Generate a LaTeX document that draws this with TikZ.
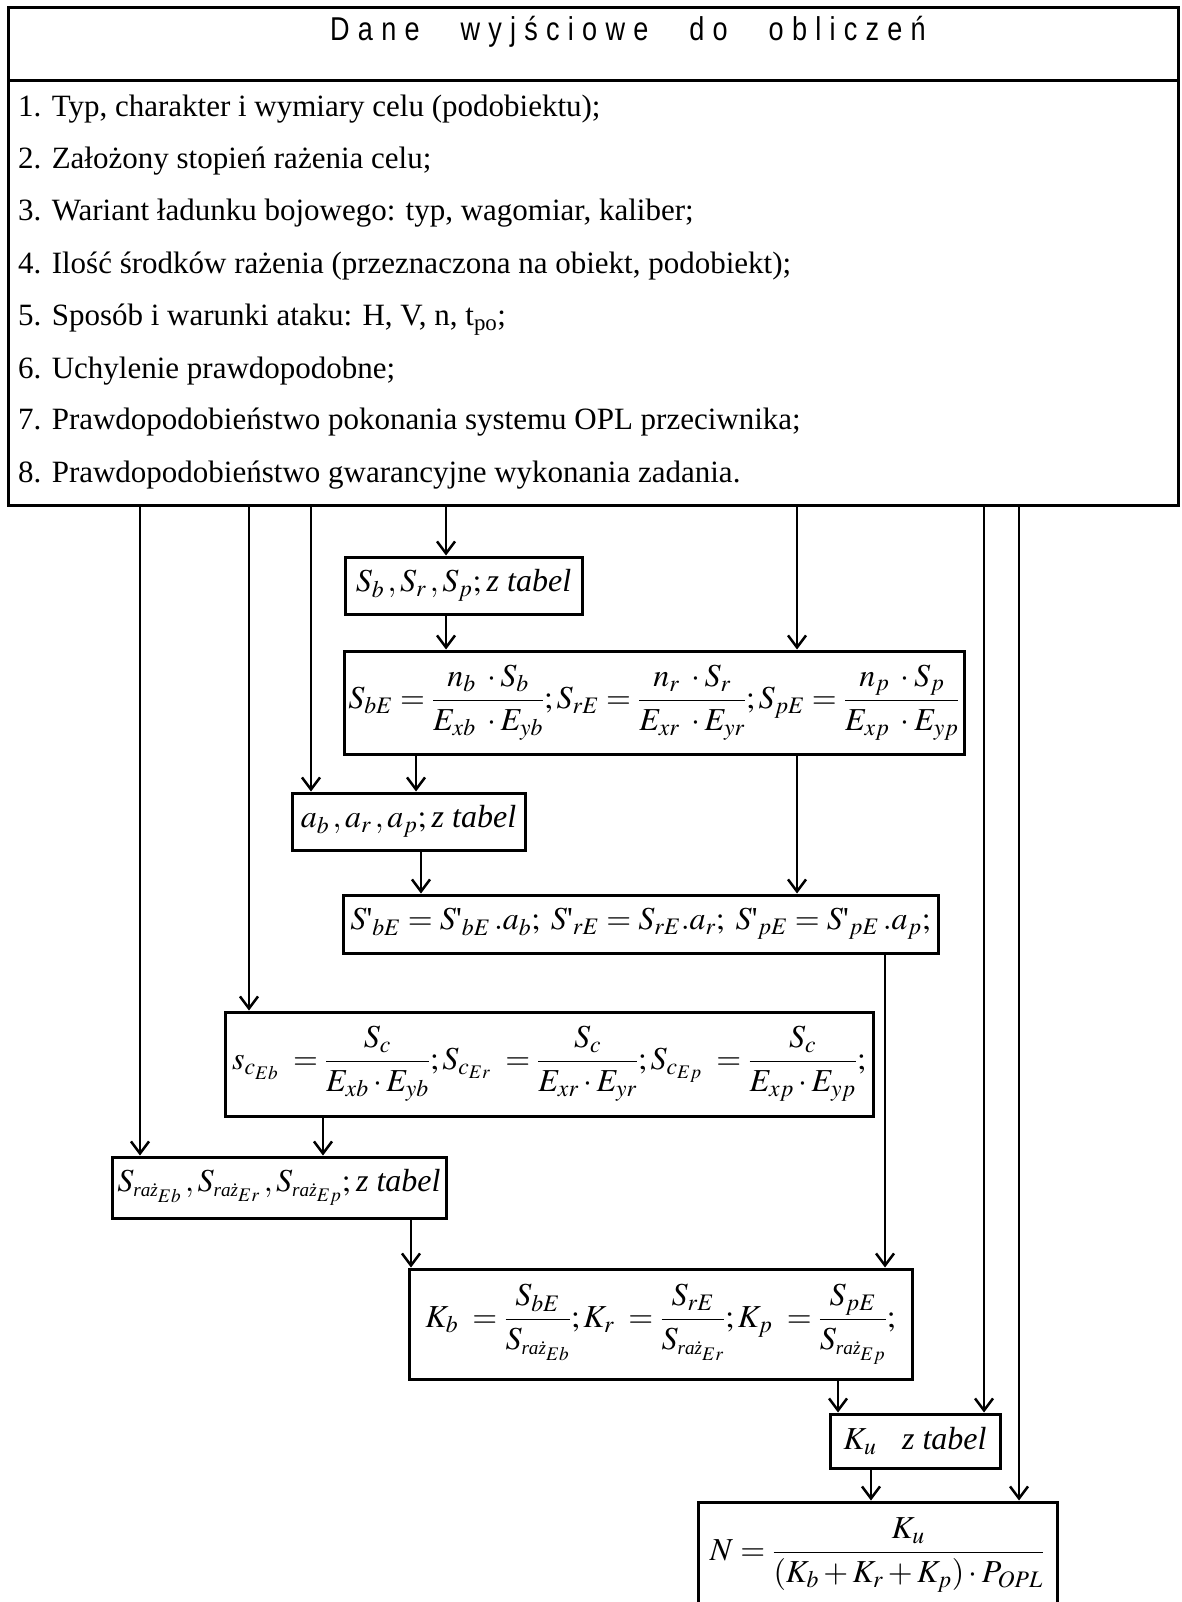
\documentclass[tikz,border=0pt]{standalone}
\usepackage{amsmath}
\usepackage{mathptmx}
\usepackage{fontspec}
\setmainfont{Liberation Serif}
\newfontfamily\hdrfont[FakeStretch=0.82,LetterSpace=25,WordSpace=2.6]{Liberation Sans}
\usetikzlibrary{arrows.meta}
\newcommand{\rz}[1]{{\scriptscriptstyle\text{\itshape ra\.z}_{#1}}}
\begin{document}
\begin{tikzpicture}[x=1pt,y=-1pt,
  box/.style={draw, line width=3pt, inner sep=0pt},
  lst/.style={anchor=base west, inner sep=0pt, font=\fontsize{31}{36}\selectfont},
  mth/.style={font=\fontsize{32}{38}\selectfont},
  arr/.style={line width=2.2pt, -{Straight Barb[length=12pt,width=18pt,line width=2.5pt]}}]
\useasboundingbox (0,0) rectangle (1182,1602);
\clip (0,0) rectangle (1182,1602);
% columns
\coordinate (xA) at (140,0);
\coordinate (xB) at (249,0);
\coordinate (xC) at (311,0);
\coordinate (xD) at (446,0);
\coordinate (xE) at (797,0);
\coordinate (xF) at (984,0);
\coordinate (xG) at (1019,0);
\coordinate (xH) at (416,0);
\coordinate (xI) at (421,0);
\coordinate (xJ) at (885,0);
\coordinate (xK) at (323,0);
\coordinate (xL) at (411,0);
\coordinate (xM) at (838,0);
\coordinate (xN) at (871,0);
% top boxes
\node[box, minimum width=1170pt, minimum height=73pt] (hdr) at (593,44.5) {};
\node[inner sep=0pt, font=\hdrfont\fontsize{33}{38}\selectfont] (hdrt) at (628,32) {Dane wyjściowe do obliczeń};
\node[box, minimum width=1170pt, minimum height=424pt] (lst) at (593,293) {};
\node[lst] (l1) at (18,117) {1. Typ, charakter i wymiary celu (podobiektu);};
\node[lst] (l2) at (18,169) {2. Założony stopień rażenia celu;};
\node[lst] (l3) at (18,221) {3. Wariant ładunku bojowego: typ, wagomiar, kaliber;};
\node[lst] (l4) at (18,274) {4. Ilość środków rażenia (przeznaczona na obiekt, podobiekt);};
\node[lst] (l5) at (18,326) {5. Sposób i warunki ataku: H, V, n, t\textsubscript{po};};
\node[lst] (l6) at (18,378) {6. Uchylenie prawdopodobne;};
\node[lst] (l7) at (18,429) {7. Prawdopodobieństwo pokonania systemu OPL przeciwnika;};
\node[lst] (l8) at (18,482) {8. Prawdopodobieństwo gwarancyjne wykonania zadania.};
% formula boxes
\node[box, mth, minimum width=237pt, minimum height=57pt] (sb) at (463.5,585.5)
  {$S_b\,,S_r\,,S_p;$\,\textit{z tabel}};
\node[box, mth, minimum width=620pt, minimum height=103pt] (sbe) at (654,702.5)
  {$S_{bE}=\dfrac{n_b\;\cdot S_b}{E_{xb}\;\cdot E_{yb}};S_{rE}=\dfrac{n_r\;\cdot S_r}{E_{xr}\;\cdot E_{yr}};S_{pE}=\dfrac{n_p\;\cdot S_p}{E_{xp}\;\cdot E_{yp}}$};
\node[box, mth, minimum width=233pt, minimum height=57pt] (ab) at (408.5,821.5)
  {$a_b\,,a_r\,,a_p;$\,\textit{z tabel}};
\node[box, mth, minimum width=595pt, minimum height=58pt] (sp) at (640.5,924)
  {$S\text{\textquotesingle}_{bE}=S\text{\textquotesingle}_{bE}\,.a_b;\;S\text{\textquotesingle}_{rE}=S_{rE}.a_r;\;S\text{\textquotesingle}_{pE}=S\text{\textquotesingle}_{pE}\,.a_p;$};
\node[box, mth, minimum width=648pt, minimum height=104pt] (sc) at (549,1064)
  {$s_{c_{Eb}}\;=\dfrac{S_c}{E_{xb}\cdot E_{yb}};S_{c_{Er}}\;=\dfrac{S_c}{E_{xr}\cdot E_{yr}};S_{c_{Ep}}\;=\dfrac{S_c}{E_{xp}\cdot E_{yp}};$};
\node[box, mth, minimum width=334pt, minimum height=61pt] (srz) at (279,1187.5)
  {$S_{\rz{Eb}}\,,S_{\rz{Er}}\,,S_{\rz{Ep}};$\,\textit{z tabel}};
\node[box, mth, minimum width=503pt, minimum height=110pt] (kb) at (660.5,1324)
  {$K_b\;=\dfrac{S_{bE}}{S_{\rz{Eb}}};K_r\;=\dfrac{S_{rE}}{S_{\rz{Er}}};K_p\;=\dfrac{S_{pE}}{S_{\rz{Ep}}};$};
\node[box, mth, minimum width=170pt, minimum height=54pt] (ku) at (915,1441)
  {$K_u$\;\; \textit{z tabel}};
\node[box, minimum width=359pt, minimum height=140pt] (nn) at (877.5,1572) {};
\node[mth, inner sep=0pt] (nt) at (877,1555)
  {$N=\dfrac{K_u}{(K_b+K_r+K_p)\cdot P_{OPL}}$};
% connectors
\draw[arr] (lst.south -| xA) -- (srz.north -| xA);
\draw[arr] (lst.south -| xB) -- (sc.north -| xB);
\draw[arr] (lst.south -| xC) -- (ab.north -| xC);
\draw[arr] (lst.south -| xD) -- (sb.north -| xD);
\draw[arr] (lst.south -| xE) -- (sbe.north -| xE);
\draw[arr] (lst.south -| xF) -- (ku.north -| xF);
\draw[arr] (lst.south -| xG) -- (nn.north -| xG);
\draw[arr] (sb.south -| xD) -- (sbe.north -| xD);
\draw[arr] (sbe.south -| xH) -- (ab.north -| xH);
\draw[arr] (ab.south -| xI) -- (sp.north -| xI);
\draw[arr] (sbe.south -| xE) -- (sp.north -| xE);
\draw[arr] (sp.south -| xJ) -- (kb.north -| xJ);
\draw[arr] (sc.south -| xK) -- (srz.north -| xK);
\draw[arr] (srz.south -| xL) -- (kb.north -| xL);
\draw[arr] (kb.south -| xM) -- (ku.north -| xM);
\draw[arr] (ku.south -| xN) -- (nn.north -| xN);
\end{tikzpicture}
\end{document}
